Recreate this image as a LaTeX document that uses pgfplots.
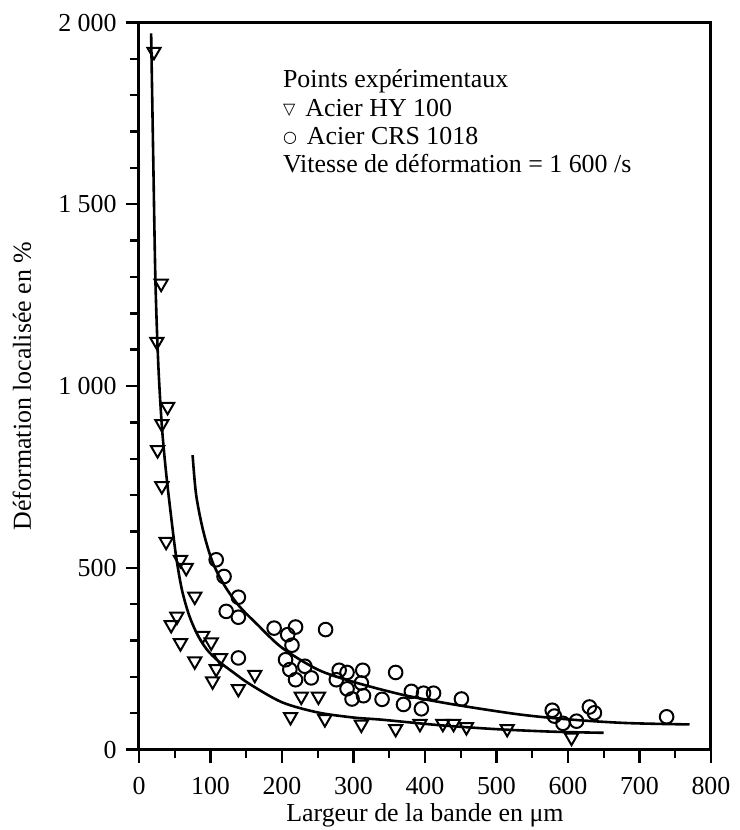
\documentclass[border=0pt]{standalone}
\usepackage{fontspec}
\setmainfont{Liberation Serif}
\newfontfamily\sym{DejaVu Sans}
\usepackage{pgfplots}
\pgfplotsset{compat=1.18}

% HY 100 (triangles)
\pgfplotstableread{
x y
21 1920
31 1282
25 1122
40 943
32 896
26 824
32 725
38 572
58 522
66 500
78 421
53 366
45 343
58 293
89 313
101 295
114 252
78 243
108 222
103 188
139 167
162 206
227 146
251 146
212 90
260 84
311 69
359 57
393 71
425 71
440 71
458 62
515 57
605 33
}\hy

% CRS 1018 (circles)
\pgfplotstableread{
x y
108 522
119 476
139 419
122 380
139 364
139 252
189 334
219 337
208 316
214 287
261 330
205 247
211 220
232 229
219 192
241 197
280 218
291 212
313 218
276 192
291 167
311 183
298 139
314 148
340 138
359 212
370 124
381 160
398 155
412 155
395 112
451 139
578 108
581 92
593 72
612 78
630 117
637 101
738 90
}\crs

% fitted curves
\pgfplotstableread{
x y
17 1970
20 1620
23 1290
27 1060
32 890
38 760
45 640
52 530
60 440
70 370
82 315
95 275
110 245
130 215
155 180
200 130
250 102
300 88
340 82
420 67
500 56
580 49
650 46
}\fithy

\pgfplotstableread{
x y
75 810
80 700
90 600
103 515
120 450
140 395
165 345
200 280
250 220
300 186
370 150
440 124
530 97
600 83
680 73
770 69
}\fitcrs

\newcommand\symb[1]{{\sym\fontsize{8}{8}\selectfont\raisebox{0.8bp}{#1}}\hspace{5bp}}

\begin{document}
\fontsize{13}{14.2}\selectfont
\begin{tikzpicture}
\begin{axis}[
  width=286bp, height=363.5bp, scale only axis,
  xmin=0, xmax=800, ymin=0, ymax=2000,
  xtick distance=100, minor x tick num=1,
  ytick={0,500,1000,1500,2000}, minor y tick num=4,
  tick align=outside, xtick pos=bottom, ytick pos=left,
  major tick length=6.7bp, minor tick length=4.3bp,
  axis line style={line width=1.5bp},
  tick style={black, line width=1.2bp},
  /pgf/number format/assume math mode=true,
  /pgf/number format/1000 sep={\ },
  xticklabel style={yshift=-2.5bp},
  xlabel={Largeur de la bande en μm},
  ylabel={Déformation localisée en \%},
  xlabel style={at={(axis description cs:0.5,-0.09)}, anchor=center, inner sep=0pt},
  ylabel style={at={(axis description cs:-0.2045,0.5)}, anchor=center, inner sep=0pt},
  clip=false,
]
\path (rel axis cs:-0.243,-0.1107) rectangle (rel axis cs:1.042,1.031);

\addplot[smooth, black, line width=1.3bp] table {\fithy};
\addplot[smooth, black, line width=1.3bp] table {\fitcrs};

\addplot[only marks, mark=triangle, mark size=3.8bp,
  mark options={rotate=180, black, line width=1bp}] table {\hy};
\addplot[only marks, mark=o, mark size=3.4bp,
  mark options={black, line width=1bp}] table {\crs};

\node[anchor=north west, align=left, inner sep=0pt,
  font=\fontsize{13}{14.2}\selectfont] at (axis cs:201,1871)
  {Points expérimentaux\\
   \symb{▽}Acier HY 100\\
   \symb{○}Acier CRS 1018\\
   Vitesse de déformation = 1 600 /s};
\end{axis}
\end{tikzpicture}
\end{document}
